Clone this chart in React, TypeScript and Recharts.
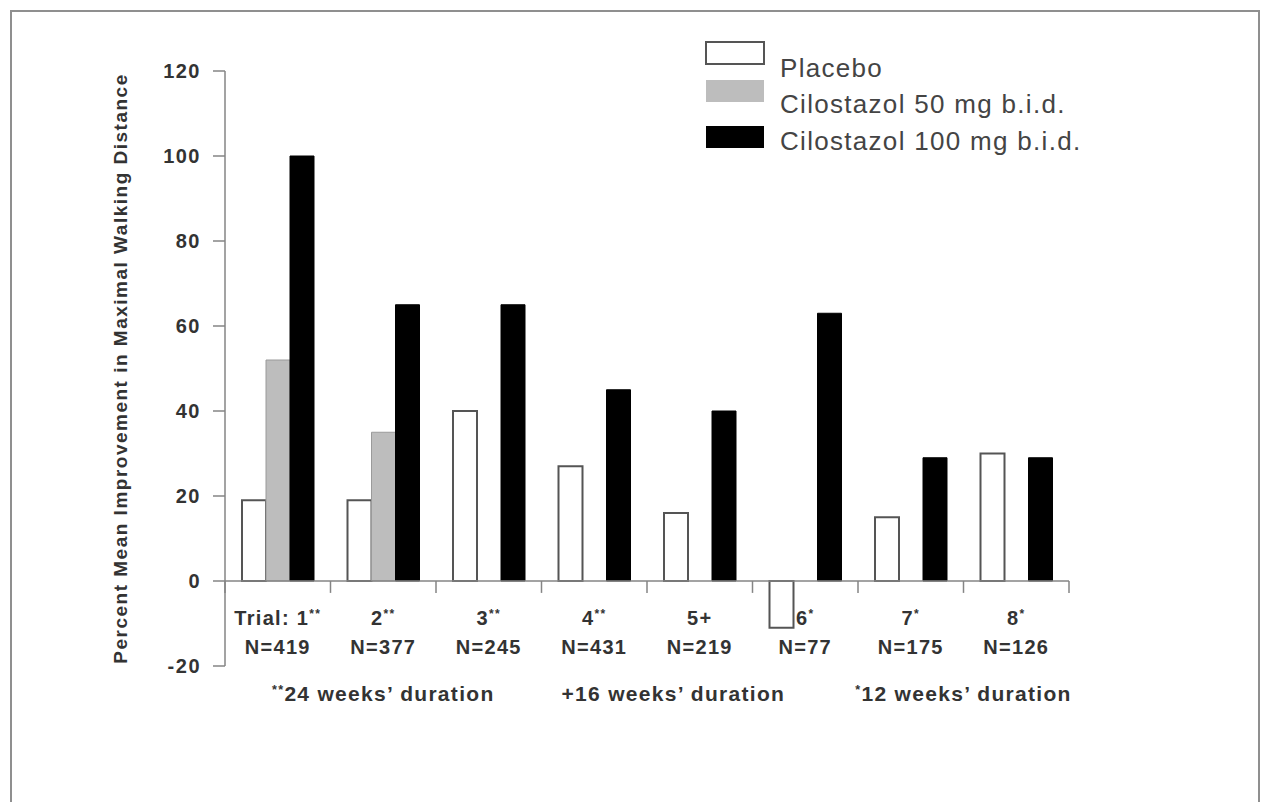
import { Bar, BarChart, XAxis, YAxis, ReferenceLine, Legend } from "recharts"

// trial categories and the marks that tell the study duration
const trials = ["1", "2", "3", "4", "5", "6", "7", "8"]
const trialMarks = ["**", "**", "**", "**", "+", "*", "*", "*"]
const trialN = [419, 377, 245, 431, 219, 77, 175, 126]

// percent mean improvement
const placebo = [19, 19, 40, 27, 16, -11, 15, 30]
const cilo50 = [52, 35, null, null, null, null, null, null]
const cilo100 = [100, 65, 65, 45, 40, 63, 29, 29]

const yTicks = [-20, 0, 20, 40, 60, 80, 100, 120]
const seriesNames = ["Placebo", "Cilostazol 50 mg b.i.d.", "Cilostazol 100 mg b.i.d."]
const durationMarks = ["**", "+", "*"]
const durationTexts = ["24 weeks’ duration", "16 weeks’ duration", "12 weeks’ duration"]

const FONT = '"Liberation Sans", Arial, sans-serif'
const TEXT = "#333333"
const AXIS = "#858585"

const styles = [
  { fill: "#ffffff", stroke: "#555555", strokeWidth: 2 },
  { fill: "#bdbdbd", stroke: "#9a9a9a", strokeWidth: 1 },
  { fill: "#000000", stroke: "#000000", strokeWidth: 1 },
]

// where the duration captions sit, in trial units along the edge axis
const durationAt = [1.5, 4.25, 7]

const data = trials.map((t, i) => ({
  trial: t,
  pos: i + 0.5,
  placebo: placebo[i],
  c50: cilo50[i],
  c100: cilo100[i],
}))
const keys = ["placebo", "c50", "c100"]
const edges = Array.from({ length: trials.length + 1 }, (_, i) => i)

function Mark({ mark, size }: { mark: string; size: number }) {
  if (mark === "+") return <tspan>{mark}</tspan>
  return (
    <tspan fontSize={size * 0.6} dy={-size * 0.35}>
      {mark}
    </tspan>
  )
}

function TrialTick(props: any) {
  const { x, y, payload } = props
  const i = trials.indexOf(String(payload?.value))
  if (i < 0) return null
  const txt = { fill: TEXT, fontSize: 20, fontWeight: "bold", fontFamily: FONT, textAnchor: "middle" as const, style: { letterSpacing: 1.3 } }
  return (
    <g>
      <text x={x} y={y - 41} {...txt}>
        {i === 0 ? "Trial: " : ""}
        {trials[i]}
        <Mark mark={trialMarks[i]} size={20} />
      </text>
      <text x={x} y={y - 12} {...txt}>
        N={trialN[i]}
      </text>
    </g>
  )
}

function DurationLabel({ viewBox, i }: any) {
  if (!viewBox) return null
  const x = viewBox.x
  const y = viewBox.y + viewBox.height + 35
  return (
    <text x={x} y={y} fill={TEXT} fontSize={21} fontWeight="bold" fontFamily={FONT} textAnchor="middle" style={{ letterSpacing: 1.3 }}>
      <Mark mark={durationMarks[i]} size={21} />
      <tspan dy={durationMarks[i] === "+" ? 0 : 21 * 0.35}>{durationTexts[i]}</tspan>
    </text>
  )
}

function LegendBoxes() {
  const boxTop = [2, 40, 86]
  const baseline = [37, 73, 110]
  return (
    <svg width={430} height={130} style={{ display: "block" }}>
      {seriesNames.map((name, i) => (
        <g key={name}>
          <rect
            x={1}
            y={boxTop[i]}
            width={58}
            height={22}
            fill={styles[i].fill}
            stroke={i === 0 ? "#555555" : styles[i].fill}
            strokeWidth={i === 0 ? 2 : 0}
          />
          <text x={75} y={baseline[i]} fill="#444444" fontSize={26} fontFamily={FONT} style={{ letterSpacing: 1.3 }}>
            {name}
          </text>
        </g>
      ))}
    </svg>
  )
}

export default function App() {
  return (
    <div
      style={{
        position: "absolute",
        left: 10,
        top: 10,
        width: 1246,
        height: 790,
        border: "2px solid #8f8f8f",
        borderBottom: "none",
        background: "#fff",
      }}
    >
      <BarChart
        width={1246}
        height={790}
        data={data}
        margin={{ top: 59, right: 189, bottom: 106, left: 0 }}
        barGap={0}
        barSize={24}
      >
        <XAxis
          dataKey="trial"
          height={30}
          axisLine={false}
          tickLine={false}
          tickSize={0}
          tickMargin={0}
          interval={0}
          tick={(p: any) => <TrialTick {...p} />}
        />
        <XAxis
          xAxisId="edge"
          dataKey="pos"
          type="number"
          domain={[0, trials.length]}
          allowDataOverflow
          hide
        />
        <YAxis
          domain={[-20, 120]}
          ticks={yTicks}
          width={213}
          interval={0}
          stroke={AXIS}
          strokeWidth={1.5}
          tickSize={12}
          tickMargin={12}
          tick={{ fill: TEXT, fontSize: 20, fontWeight: "bold", fontFamily: FONT, style: { letterSpacing: 1.5 } }}
          label={{
            value: "Percent Mean Improvement in Maximal Walking Distance",
            angle: -90,
            position: "insideLeft",
            offset: 108,
            style: { textAnchor: "middle", fontSize: 19, fontWeight: "bold", fill: TEXT, fontFamily: FONT, letterSpacing: 1.5 },
          }}
        />
        <ReferenceLine y={0} stroke={AXIS} strokeWidth={1.5} />
        {edges.map((e) => (
          <ReferenceLine
            key={"edge" + e}
            xAxisId="edge"
            segment={[
              { x: e, y: 0 },
              { x: e, y: -2.8 },
            ]}
            stroke={AXIS}
            strokeWidth={1.5}
          />
        ))}
        {durationTexts.map((t, i) => (
          <ReferenceLine
            key={t}
            xAxisId="edge"
            x={durationAt[i]}
            stroke="none"
            label={(p: any) => <DurationLabel viewBox={p.viewBox} i={i} />}
          />
        ))}
        {keys.map((k, i) => (
          <Bar
            key={k}
            dataKey={k}
            name={seriesNames[i]}
            fill={styles[i].fill}
            stroke={styles[i].stroke}
            strokeWidth={styles[i].strokeWidth}
            isAnimationActive={false}
          />
        ))}
        <Legend
          layout="vertical"
          align="center"
          verticalAlign="middle"
          content={() => <LegendBoxes />}
          wrapperStyle={{ position: "absolute", top: 28, left: 693, width: 430 }}
        />
      </BarChart>
    </div>
  )
}
